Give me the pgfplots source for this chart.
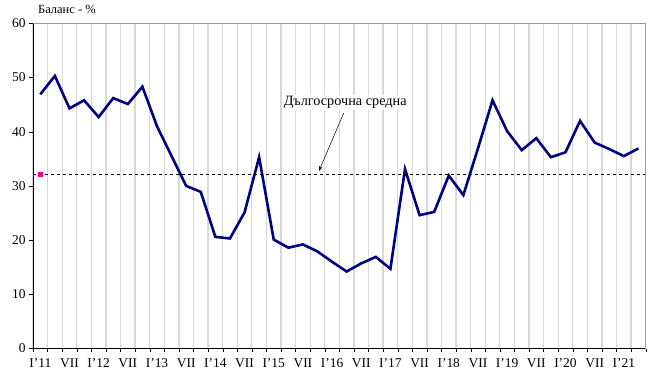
\documentclass[border=0pt]{standalone}
\usepackage{pgfplots}
\pgfplotsset{compat=1.18}
\usepackage{fontspec}
\setmainfont{Liberation Serif}
\usetikzlibrary{arrows.meta}
\definecolor{navy}{HTML}{000080}
\definecolor{gridgray}{HTML}{D8D8D8}
\begin{document}
\begin{tikzpicture}
\useasboundingbox (-33bp,-39.5bp) rectangle (623bp,348.5bp);
\begin{axis}[
  scale only axis,
  width=612.7bp, height=325.2bp,
  xmin=-0.5, xmax=41.5,
  ymin=0, ymax=60,
  clip=false,
  axis x line*=bottom, axis y line*=left,
  axis line style={black,-},
  ytick={0,10,...,60},
  xtick={0,2,...,40},
  xticklabels={I'11,VII,I'12,VII,I'13,VII,I'14,VII,I'15,VII,I'16,VII,I'17,VII,I'18,VII,I'19,VII,I'20,VII,I'21},
  minor xtick={-0.5,0.5,...,41.5},
  major x tick style={draw=none},
  minor tick length=3.5bp,
  major tick length=4bp,
  tick align=outside,
  xminorgrids,
  minor x grid style={gridgray, line width=1.3bp},
  tick style={black},
  tick label style={font=\fontsize{13.5}{15}\selectfont},
  xticklabel style={yshift=-3bp},
  yticklabel style={xshift=0bp},
  /pgf/number format/assume math mode=true,
]
\addplot[navy, line width=2.6bp, mark=none] coordinates {
(0,46.9) (1,50.3) (2,44.3) (3,45.8) (4,42.7) (5,46.2) (6,45.1) (7,48.3)
(8,41.0) (9,35.5) (10,30.0) (11,28.9) (12,20.6) (13,20.3) (14,25.1) (15,35.3)
(16,20.1) (17,18.6) (18,19.2) (19,17.9) (20,16.0) (21,14.2) (22,15.7) (23,16.9)
(24,14.7) (25,33.1) (26,24.6) (27,25.2) (28,31.9) (29,28.3) (30,36.9) (31,45.8)
(32,40.1) (33,36.6) (34,38.8) (35,35.3) (36,36.2) (37,42.0) (38,38.0) (39,36.8)
(40,35.5) (41,36.9)
};
\addplot[black, dashed, line width=0.6bp, mark=none] coordinates {(-0.5,32.15) (41.5,32.15)};
\addplot[only marks, mark=square*, mark size=1.8bp, color=magenta] coordinates {(0,32.15)};
\draw[gray!80, line width=0.8bp] (rel axis cs:0,1) -- (rel axis cs:1,1) -- (rel axis cs:1,0);
\draw[-{Stealth[length=5bp,width=3.5bp]}, line width=0.5bp] (axis cs:20.8,43.45) -- (axis cs:19.1,32.75);
\node[fill=white, inner sep=1bp, font=\fontsize{14.3}{16}\selectfont] at (axis cs:20.9,45.4) {Дългосрочна средна};
\node[anchor=west, font=\fontsize{12.5}{14}\selectfont, inner sep=0pt] at ([xshift=5bp,yshift=14bp]rel axis cs:0,1) {Баланс - \%};
\end{axis}
\end{tikzpicture}
\end{document}
